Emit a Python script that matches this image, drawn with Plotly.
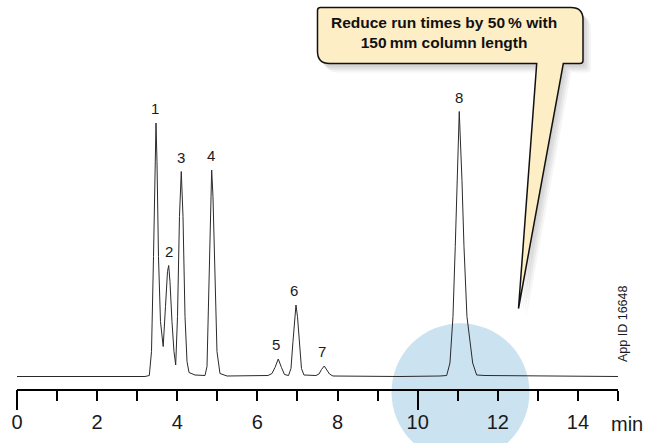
import plotly.graph_objects as go

# chromatogram trace (time in min, detector signal in arbitrary units)
trace_time = [0.0, 3.194, 3.302, 3.357, 3.407, 3.444, 3.469, 3.494, 3.531, 3.581, 3.649,
              3.706, 3.756, 3.786, 3.818, 3.868, 3.918, 3.961, 4.006, 4.055, 4.100,
              4.143, 4.193, 4.243, 4.293, 4.442, 4.692, 4.742, 4.792, 4.834, 4.859,
              4.891, 4.941, 4.991, 5.066, 5.241, 6.264, 6.364, 6.439, 6.521, 6.601,
              6.676, 6.776, 6.838, 6.888, 6.930, 6.963, 7.000, 7.050, 7.100, 7.162,
              7.462, 7.537, 7.599, 7.669, 7.736, 7.799, 7.886, 9.558, 10.557, 10.724,
              10.806, 10.881, 10.938, 10.988, 11.038, 11.106, 11.156, 11.230, 11.373,
              11.472, 11.680, 15.0]
trace_signal = [0, 0, 1, 25, 120, 215, 253.5, 215, 120, 55, 30,
                70, 105, 111, 95, 55, 25, 11.5, 60, 160, 205,
                160, 60, 15, 4, 1.5, 1, 10, 110, 185, 206.5,
                180, 90, 25, 3, 0.5, 1, 3, 9, 17.5, 9,
                2, 1, 8, 35, 62, 71.5, 60, 30, 8, 1.5,
                1, 2.5, 7, 10.5, 7, 2.5, 0.5, 0, 0.5, 1,
                13.5, 60, 130, 196, 265, 196, 130, 60, 13.5,
                1.5, 1, 0]

peak_labels = ['1', '2', '3', '4', '5', '6', '7', '8']
peak_times = [3.45, 3.79, 4.09, 4.84, 6.47, 6.91, 7.60, 11.04]
peak_heights = [253.5, 111, 205, 206.5, 17.5, 71.5, 10.5, 265]

x_ticks = [0, 2, 4, 6, 8, 10, 12, 14]
long_ticks = [0, 10]

callout_text = 'Reduce run times by 50\u2009% with<br>150\u2009mm column length'
app_id = 'App ID 16648'

W, H = 645, 443
L, R, T, B = 17, 27, 0, 54


def px(x):
    return (x - L) / (W - L - R)


def py(y):
    return (H - B - y) / (H - T - B)


def bubble_path(dx=0, dy=0):
    pts = [('M', [(320.5, 7.5)]), ('L', [(571, 7.5)]), ('Q', [(583, 7.5), (583, 19.5)]),
           ('L', [(583, 60.5)]), ('Q', [(583, 63.5), (580, 63.5)]), ('L', [(563.3, 63.5)]),
           ('L', [(518.5, 308.5)]), ('L', [(536.7, 63.5)]), ('L', [(329.5, 63.5)]),
           ('Q', [(317.5, 63.5), (317.5, 51.5)]), ('L', [(317.5, 10.5)]),
           ('Q', [(317.5, 7.5), (320.5, 7.5)])]
    s = ''
    for cmd, coords in pts:
        s += cmd + ' ' + ' '.join(f'{px(x + dx):.5f},{py(y + dy):.5f}' for x, y in coords) + ' '
    return s + 'Z'


fig = go.Figure()
fig.add_trace(go.Scatter(x=trace_time, y=trace_signal, mode='lines',
                         line=dict(color='#2a2a2a', width=1), showlegend=False, hoverinfo='skip'))
# invisible trace so the long-tick axis is drawn
fig.add_trace(go.Scatter(x=[0, 15], y=[0, 0], xaxis='x2', mode='none',
                         showlegend=False, hoverinfo='skip'))

font = 'Liberation Sans, Arial, sans-serif'
for lab, t, h in zip(peak_labels, peak_times, peak_heights):
    fig.add_annotation(x=t, y=h, text=lab, showarrow=False, yanchor='bottom', yshift=4,
                       font=dict(family=font, size=15, color='#1a1a1a'))

# highlight circle around peak 8
fig.add_shape(type='circle', xref='paper', yref='paper', layer='below',
              x0=px(391.5), x1=px(529.5), y0=py(461.3), y1=py(323.3),
              fillcolor='#cbe2f0', line=dict(width=0))

# callout shadow (soft, stacked) and bubble
for off, a in [(2, 0.04), (4, 0.05), (6, 0.05), (8, 0.04)]:
    fig.add_shape(type='path', xref='paper', yref='paper', path=bubble_path(off, off + 1),
                  fillcolor=f'rgba(0,0,0,{a})', line=dict(width=0))
fig.add_shape(type='path', xref='paper', yref='paper', path=bubble_path(),
              fillcolor='#fdeec5', line=dict(color='#111111', width=1.5))

fig.add_annotation(xref='paper', yref='paper', x=px(444), y=py(33), text=callout_text,
                   showarrow=False, align='center', xanchor='center', yanchor='middle',
                   font=dict(family=font, size=15.5, color='#111111', weight='bold'))

fig.add_annotation(xref='paper', yref='paper', x=px(609), y=py(424), text='min',
                   showarrow=False, xanchor='left', yanchor='middle',
                   font=dict(family=font, size=20, color='#1a1a1a'))

fig.add_annotation(xref='paper', yref='paper', x=px(623), y=py(324), text=app_id,
                   showarrow=False, textangle=-90, xanchor='center', yanchor='middle',
                   font=dict(family=font, size=12.5, color='#1a1a1a'))

fig.update_layout(
    width=W, height=H,
    margin=dict(l=L, r=R, t=T, b=B),
    paper_bgcolor='white', plot_bgcolor='rgba(0,0,0,0)',
    xaxis=dict(range=[0, 15], tickvals=x_ticks, ticks='outside', ticklen=10, tickwidth=2,
               tickcolor='black', showline=True, linecolor='black', linewidth=2,
               showgrid=False, zeroline=False, automargin=False, ticklabelstandoff=4,
               tickfont=dict(family=font, size=20, color='#1a1a1a'),
               minor=dict(dtick=1, tick0=0, ticks='outside', ticklen=10, tickwidth=2,
                          tickcolor='black', showgrid=False)),
    xaxis2=dict(range=[0, 15], overlaying='x', anchor='y', side='bottom',
                tickvals=long_ticks, ticks='outside', ticklen=20, tickwidth=2,
                tickcolor='black', showticklabels=False, showline=False,
                showgrid=False, zeroline=False),
    yaxis=dict(range=[-12.5, 376.5], visible=False),
)

fig.write_html('out.html', config={'displayModeBar': False},
               post_script="document.body.style.margin='0px';")
